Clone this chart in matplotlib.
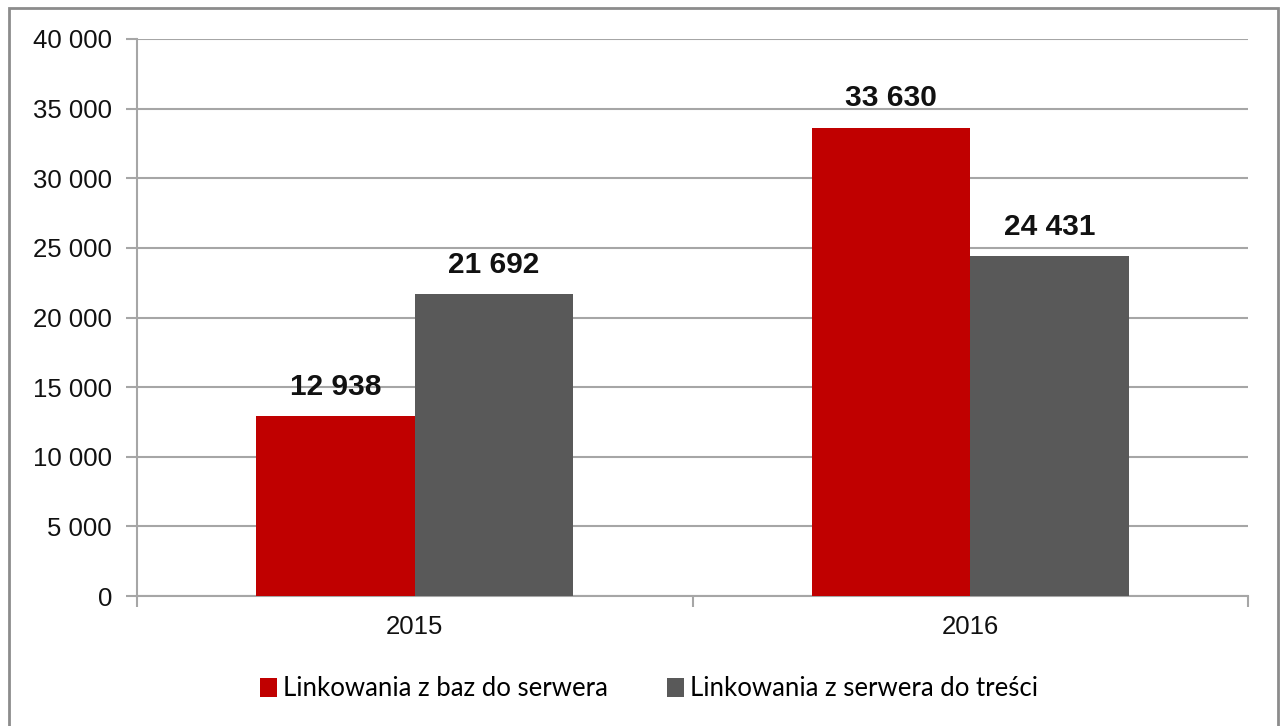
import numpy as np
import matplotlib.pyplot as plt
from matplotlib.patches import Rectangle

years = ['2015', '2016']
series_names = ['Linkowania z baz do serwera', 'Linkowania z serwera do treści']
baz_do_serwera = [12938, 33630]
serwera_do_tresci = [21692, 24431]
value_labels_baz = ['12 938', '33 630']
value_labels_tresci = ['21 692', '24 431']
y_ticks = [0, 5000, 10000, 15000, 20000, 25000, 30000, 35000, 40000]
y_tick_labels = ['0', '5 000', '10 000', '15 000', '20 000', '25 000', '30 000', '35 000', '40 000']

red = '#c00000'
grey = '#595959'
grid_col = '#a6a6a6'

fig = plt.figure(figsize=(12.82, 7.26), dpi=100)
ax = fig.add_axes([137 / 1282, 1 - 596 / 726, (1248 - 137) / 1282, (596 - 39) / 726])

x = np.arange(len(years))
w = 0.285
b1 = ax.bar(x - w / 2, baz_do_serwera, w, color=red, label=series_names[0], zorder=3)
b2 = ax.bar(x + w / 2, serwera_do_tresci, w, color=grey, label=series_names[1], zorder=3)

# etykiety wartosci nad slupkami
for bars, labels in [(b1, value_labels_baz), (b2, value_labels_tresci)]:
    for rect, lab in zip(bars, labels):
        ax.annotate(lab, (rect.get_x() + rect.get_width() / 2, rect.get_height()),
                    xytext=(0, 11), textcoords='offset points', ha='center', va='bottom',
                    fontsize=21.5, fontweight='bold', family='Liberation Sans', color='#111111')

ax.set_xlim(-0.5, 1.5)
ax.set_ylim(0, 40000)
ax.set_yticks(y_ticks)
ax.set_yticklabels(y_tick_labels, fontsize=18.5, family='Liberation Sans', color='#111111')
ax.set_xticks(x)
ax.set_xticklabels(years, fontsize=18.5, family='Liberation Sans', color='#111111')
ax.set_xticks([-0.5, 0.5, 1.5], minor=True)
ax.tick_params(axis='x', which='major', length=0, pad=14)
ax.tick_params(axis='x', which='minor', length=8, width=1.5, color=grid_col)
ax.tick_params(axis='y', length=8, width=1.5, color=grid_col, pad=10)

ax.grid(axis='y', color=grid_col, linewidth=1.5, zorder=0)
for s in ['top', 'right']:
    ax.spines[s].set_visible(False)
for s in ['left', 'bottom']:
    ax.spines[s].set_color(grid_col)
    ax.spines[s].set_linewidth(1.5)

leg = fig.legend(loc='center', bbox_to_anchor=(649 / 1282, 1 - 689 / 726), ncol=2,
                 frameon=False, prop={'family': 'Lato', 'size': 18.5},
                 handlelength=0.65, handleheight=0.75, handletextpad=0.25, columnspacing=2.3)

# ramka wokol wykresu
fig.patches.append(Rectangle((9 / 1282, -0.05), (1278 - 9) / 1282, 1 - 8 / 726 + 0.05,
                             transform=fig.transFigure, fill=False, edgecolor='#8c8c8c',
                             linewidth=2))

fig.savefig('out.png', dpi=100)
